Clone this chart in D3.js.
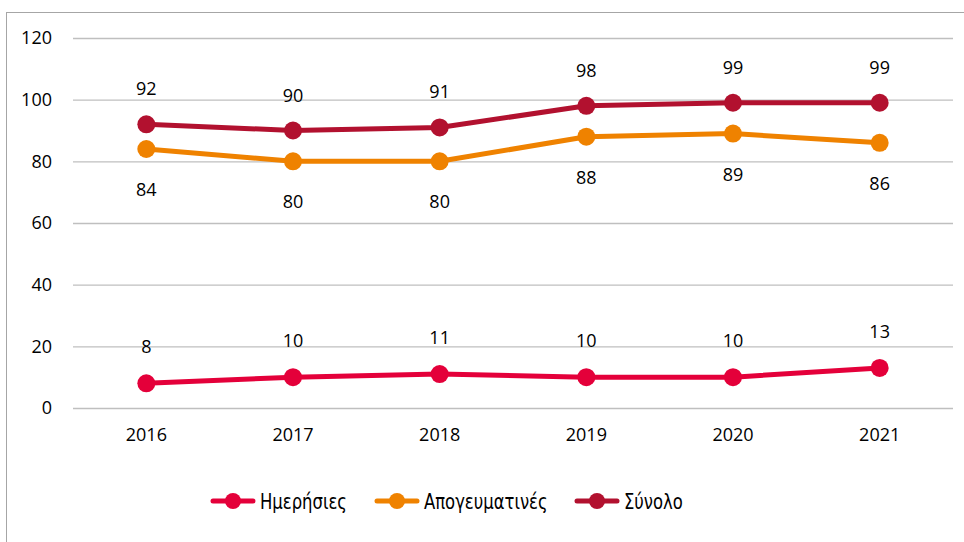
<!DOCTYPE html>
<html>
<head>
<meta charset="utf-8">
<script src="https://cdn.jsdelivr.net/npm/d3@7"></script>
<style>
body { margin: 0; background: #fff; }
svg { display: block; }
</style>
</head>
<body>
<svg></svg>
<script>
var years = ["2016", "2017", "2018", "2019", "2020", "2021"]
var yTicks = [0, 20, 40, 60, 80, 100, 120]

var hmerisies = [8, 10, 11, 10, 10, 13]
var apogeumatines = [84, 80, 80, 88, 89, 86]
var synolo = [92, 90, 91, 98, 99, 99]

var seriesNames = ["Ημερήσιες", "Απογευματινές", "Σύνολο"]
var seriesColors = ["#E4003A", "#EF8200", "#B2112F"]

var screen = {width: 964, height: 542}
var margins = {top: 38, bottom: 134, left: 73, right: 6}

var svg = d3.select("svg")
.attr("width", screen.width)
.attr("height", screen.height)

// chart frame
svg.append("rect")
.attr("x", 6.5)
.attr("y", 12.5)
.attr("width", 980)
.attr("height", 560)
.attr("fill", "none")
.attr("stroke", "#A6A6A6")
.attr("stroke-width", 1)

var width = screen.width - margins.left - margins.right - 5
var height = screen.height - margins.top - margins.bottom

var xScale = d3.scaleBand()
.domain(years)
.range([0, width])

var yScale = d3.scaleLinear()
.domain([0, 120])
.range([height, 0])

var plot = svg.append("g")
.attr("transform", "translate(" + margins.left + "," + margins.top + ")")

var labelFont = "Open Sans"
var labelSize = 18

// gridlines + y labels
var yAxis = d3.axisLeft(yScale)
.tickValues(yTicks)
.tickSize(-width)
.tickPadding(21)

plot.append("g")
.attr("id", "yAxis")
.call(yAxis)
.call(function(g) {
    g.select(".domain").remove()
    g.selectAll(".tick line").attr("stroke", "#BFBFBF").attr("stroke-width", 1.3)
    g.selectAll(".tick text")
    .attr("font-family", labelFont)
    .attr("font-size", labelSize)
    .attr("fill", "#000")
})

var xAxis = d3.axisBottom(xScale)
.tickSize(0)
.tickPadding(20)

plot.append("g")
.attr("id", "xAxis")
.attr("transform", "translate(0," + height + ")")
.call(xAxis)
.call(function(g) {
    g.select(".domain").remove()
    g.selectAll(".tick text")
    .attr("font-family", labelFont)
    .attr("font-size", labelSize)
    .attr("fill", "#000")
})

var allSeries = [
    {name: seriesNames[0], values: hmerisies, color: seriesColors[0], labelDy: -30},
    {name: seriesNames[1], values: apogeumatines, color: seriesColors[1], labelDy: 47},
    {name: seriesNames[2], values: synolo, color: seriesColors[2], labelDy: -29}
]

var line = d3.line()
.x(function(d, i) { return xScale(years[i]) + xScale.bandwidth() / 2 })
.y(function(d) { return yScale(d) })

allSeries.forEach(function(s)
{
    var g = plot.append("g")

    g.append("path")
    .datum(s.values)
    .attr("d", line)
    .attr("fill", "none")
    .attr("stroke", s.color)
    .attr("stroke-width", 5)
    .attr("stroke-linejoin", "round")

    g.selectAll("circle")
    .data(s.values)
    .enter()
    .append("circle")
    .attr("cx", function(d, i) { return xScale(years[i]) + xScale.bandwidth() / 2 })
    .attr("cy", function(d) { return yScale(d) })
    .attr("r", 9)
    .attr("fill", s.color)

    g.selectAll("text")
    .data(s.values)
    .enter()
    .append("text")
    .attr("x", function(d, i) { return xScale(years[i]) + xScale.bandwidth() / 2 })
    .attr("y", function(d) { return yScale(d) + s.labelDy })
    .attr("text-anchor", "middle")
    .attr("font-family", labelFont)
    .attr("font-size", labelSize)
    .attr("fill", "#000")
    .text(function(d) { return d })
})

// legend
var legendX = [213, 377, 577]
var legend = svg.append("g")
.attr("id", "legend")

allSeries.forEach(function(s, i)
{
    var item = legend.append("g")
    .attr("transform", "translate(" + legendX[i] + ",501)")

    item.append("line")
    .attr("x1", 0)
    .attr("x2", 40)
    .attr("stroke", s.color)
    .attr("stroke-width", 5)
    .attr("stroke-linecap", "round")

    item.append("circle")
    .attr("cx", 20)
    .attr("r", 8)
    .attr("fill", s.color)

    // legend font in the original is narrow, so squeeze it a bit
    item.append("text")
    .attr("transform", "translate(47,8) scale(0.83,1)")
    .attr("font-family", "DejaVu Sans Condensed, DejaVu Sans")
    .attr("font-stretch", "condensed")
    .attr("font-size", 22)
    .attr("fill", "#000")
    .text(s.name)
})
</script>
</body>
</html>
